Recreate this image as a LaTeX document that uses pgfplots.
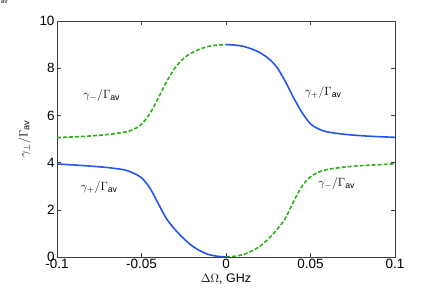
\documentclass[border=0pt]{standalone}
\usepackage{pgfplots}
\pgfplotsset{compat=1.18}
\usepackage{fontspec}
\setmainfont{Liberation Sans}
\definecolor{cblue}{RGB}{35,85,240}
\definecolor{cgreen}{RGB}{45,175,25}
\definecolor{caxis}{RGB}{60,60,75}
\begin{document}
\begin{tikzpicture}
\begin{axis}[
  scale only axis, width=338bp, height=236bp,
  xmin=-0.1, xmax=0.1, ymin=0, ymax=10,
  xtick={-0.1,-0.05,0,0.05,0.1},
  xticklabels={-0.1,-0.05,0,0.05,0.1},
  ytick={0,2,4,6,8,10},
  yticklabels={0,2,4,6,8,10},
  tick align=inside, major tick length=4bp,
  axis line style={caxis, line width=0.8pt},
  every tick/.style={caxis, line width=0.6pt},
  tick label style={font=\fontsize{13.5}{15}\selectfont},
  xticklabel style={yshift=1bp},
  yticklabel style={xshift=1bp},
  xlabel={$\Delta\Omega$, GHz},
  xlabel style={font=\fontsize{12.5}{14}\selectfont, yshift=2bp},
  ylabel={$\gamma_{\perp}/\Gamma_{\mathrm{av}}$},
  ylabel style={font=\fontsize{13}{15}\selectfont, yshift=2bp},
]
% blue solid: lower-left branch (gamma_+)
\addplot[cblue, line width=1.6pt, smooth] coordinates {
(-0.1,3.94) (-0.09,3.90) (-0.08,3.85) (-0.07,3.79) (-0.06,3.69) (-0.055,3.56)
(-0.05,3.36) (-0.045,2.92) (-0.04,2.25) (-0.035,1.60) (-0.03,1.15)
(-0.025,0.78) (-0.02,0.47) (-0.015,0.25) (-0.01,0.10) (-0.005,0.03) (0,0)};
% blue solid: upper-right branch (gamma_+)
\addplot[cblue, line width=1.6pt, smooth] coordinates {
(0,9.00) (0.005,8.98) (0.01,8.93) (0.015,8.82) (0.02,8.66) (0.025,8.42)
(0.03,8.05) (0.035,7.45) (0.04,6.75) (0.045,6.12) (0.05,5.64) (0.055,5.42)
(0.06,5.30) (0.07,5.20) (0.08,5.14) (0.09,5.10) (0.1,5.07)};
% green dashed: upper-left branch (gamma_-)
\addplot[cgreen, line width=1.6pt, dash pattern=on 4bp off 2bp, smooth] coordinates {
(-0.1,5.06) (-0.09,5.09) (-0.08,5.13) (-0.07,5.19) (-0.06,5.29) (-0.055,5.40)
(-0.05,5.62) (-0.045,6.08) (-0.04,6.75) (-0.035,7.45) (-0.03,8.03) (-0.025,8.42)
(-0.02,8.66) (-0.015,8.82) (-0.01,8.93) (-0.005,8.98) (0,9.00)};
% green dashed: lower-right branch (gamma_-)
\addplot[cgreen, line width=1.6pt, dash pattern=on 4bp off 2bp, smooth] coordinates {
(0,0) (0.005,0.03) (0.01,0.10) (0.015,0.24) (0.02,0.45) (0.025,0.76)
(0.03,1.15) (0.035,1.62) (0.04,2.35) (0.045,3.00) (0.05,3.40) (0.055,3.60)
(0.06,3.71) (0.07,3.81) (0.08,3.87) (0.09,3.91) (0.1,3.95)};
\node[font=\fontsize{12.5}{14}\selectfont] at (axis cs:-0.0735,6.85) {$\gamma_{-}/\Gamma_{\mathrm{av}}$};
\node[font=\fontsize{12.5}{14}\selectfont] at (axis cs:0.0575,6.95) {$\gamma_{+}/\Gamma_{\mathrm{av}}$};
\node[font=\fontsize{12.5}{14}\selectfont] at (axis cs:-0.075,2.95) {$\gamma_{+}/\Gamma_{\mathrm{av}}$};
\node[font=\fontsize{12.5}{14}\selectfont] at (axis cs:0.0655,3.1) {$\gamma_{-}/\Gamma_{\mathrm{av}}$};
\end{axis}
\node[font=\fontsize{6}{7}\selectfont, anchor=north west, inner sep=0pt] at (-56bp,257bp) {av};
\useasboundingbox (-57bp,-32bp) rectangle (379bp,257bp);
\end{tikzpicture}
\end{document}
